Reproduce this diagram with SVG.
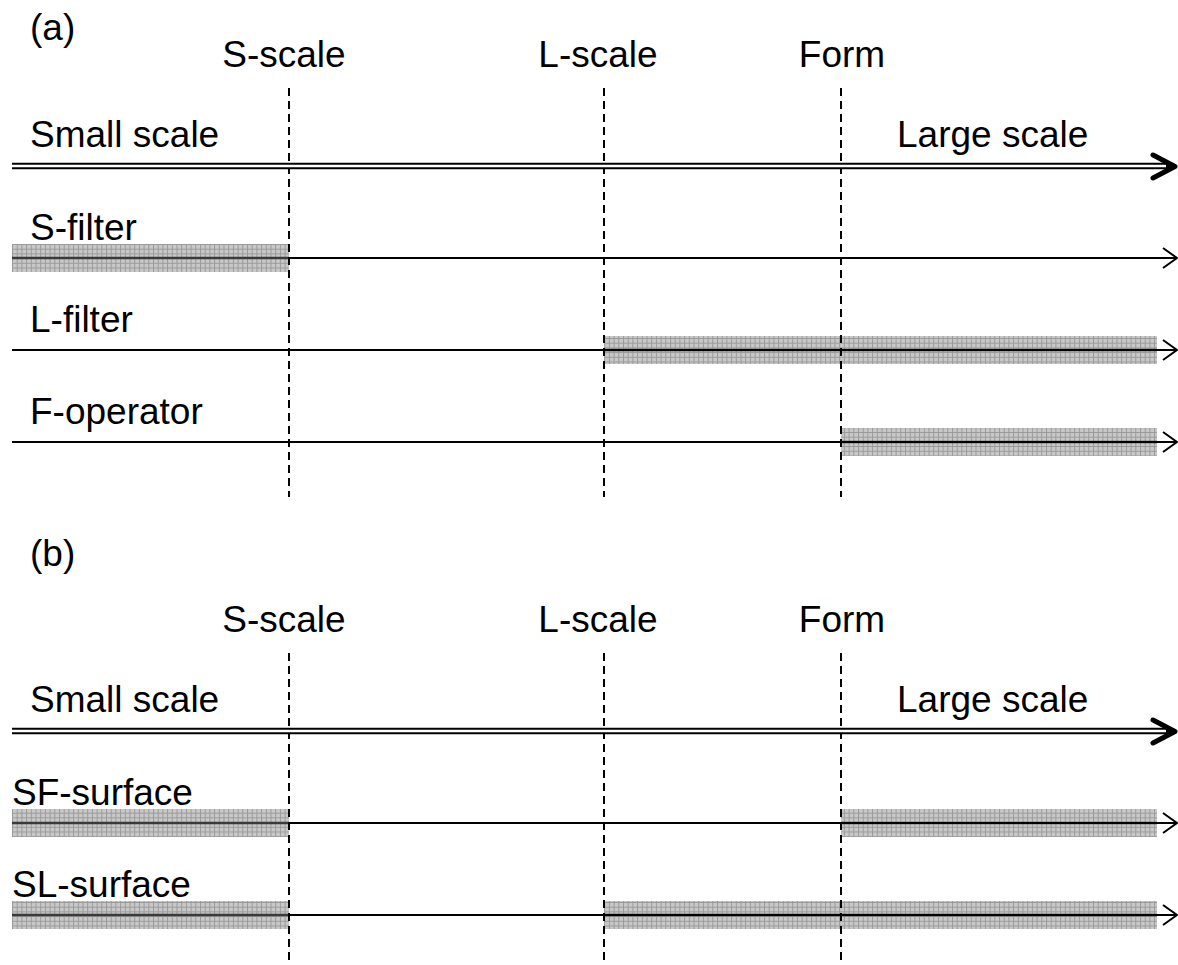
<svg xmlns="http://www.w3.org/2000/svg" width="1178" height="965" viewBox="0 0 1178 965">
<defs>
<pattern id="grid" patternUnits="userSpaceOnUse" width="4.7" height="4.7" x="12" y="244">
<rect width="4.7" height="4.7" fill="#c8c8c8"/>
<path d="M0 0.5H4.7M0.5 0V4.7" stroke="#9a9a9a" stroke-width="1" fill="none"/>
</pattern>
<marker id="thin" markerWidth="24" markerHeight="24" refX="20" refY="12" orient="auto" markerUnits="userSpaceOnUse">
<polyline points="6,2 20,12 6,22" fill="none" stroke="#000" stroke-width="2"/>
</marker>
</defs>
<style>
text{font-family:"Liberation Sans",Arial,sans-serif;font-size:37px;fill:#000}
.mid{text-anchor:middle}
.dash{stroke:#000;stroke-width:2;stroke-dasharray:8 5;fill:none}
.thin{stroke:#000;stroke-width:2;fill:none;marker-end:url(#thin)}
.bar{fill:url(#grid)}
.cl{stroke:#3a3a3a;stroke-width:2.5}
.dbl{stroke:#000;stroke-width:6.5}
.dblw{stroke:#fff;stroke-width:2.3}
.head{fill:none;stroke:#000;stroke-width:5;stroke-linecap:round;stroke-linejoin:round}
</style>
<rect width="1178" height="965" fill="#fff"/>

<g id="panel-a">
<text x="30" y="40">(a)</text>
<g id="a-scales">
<text class="mid" x="284" y="67">S-scale</text>
<text class="mid" x="598" y="67">L-scale</text>
<text class="mid" x="842" y="67">Form</text>
</g>
<g id="a-axis">
<text x="30" y="147">Small scale</text>
<text x="897" y="147">Large scale</text>
</g>
<g id="a-bars">
<rect class="bar" x="12" y="244" width="277" height="28"/>
<rect class="bar" x="604" y="336" width="553" height="28"/>
<rect class="bar" x="841" y="428" width="316" height="28"/>
<line class="cl" x1="12" y1="258" x2="289" y2="258"/>
<line class="cl" x1="604" y1="350" x2="1157" y2="350"/>
<line class="cl" x1="841" y1="442" x2="1157" y2="442"/>
</g>
<g id="a-labels">
<text x="30" y="240">S-filter</text>
<text x="30" y="332">L-filter</text>
<text x="30" y="424">F-operator</text>
</g>
</g>

<g id="panel-b">
<text x="30" y="566">(b)</text>
<g id="b-scales">
<text class="mid" x="284" y="632">S-scale</text>
<text class="mid" x="598" y="632">L-scale</text>
<text class="mid" x="842" y="632">Form</text>
</g>
<g id="b-axis">
<text x="30" y="712">Small scale</text>
<text x="897" y="712">Large scale</text>
</g>
<g id="b-bars">
<rect class="bar" x="12" y="809" width="277" height="28"/>
<rect class="bar" x="841" y="809" width="316" height="28"/>
<rect class="bar" x="12" y="901" width="277" height="28"/>
<rect class="bar" x="604" y="901" width="553" height="28"/>
<line class="cl" x1="12" y1="823" x2="289" y2="823"/>
<line class="cl" x1="841" y1="823" x2="1157" y2="823"/>
<line class="cl" x1="12" y1="915" x2="289" y2="915"/>
<line class="cl" x1="604" y1="915" x2="1157" y2="915"/>
</g>
<g id="b-labels">
<text x="12" y="805">SF-surface</text>
<text x="12" y="897">SL-surface</text>
</g>
</g>

<g id="connectors">
<line class="dash" x1="289" y1="88" x2="289" y2="497"/>
<line class="dash" x1="604" y1="88" x2="604" y2="497"/>
<line class="dash" x1="841" y1="88" x2="841" y2="497"/>
<line class="dash" x1="289" y1="653" x2="289" y2="965"/>
<line class="dash" x1="604" y1="653" x2="604" y2="965"/>
<line class="dash" x1="841" y1="653" x2="841" y2="965"/>

<line class="dbl" x1="12" y1="166" x2="1172" y2="166"/>
<line class="dblw" x1="12" y1="166" x2="1166" y2="166"/>
<polyline class="head" points="1153,155 1175,166.5 1153,178"/>
<line class="dbl" x1="12" y1="731" x2="1172" y2="731"/>
<line class="dblw" x1="12" y1="731" x2="1166" y2="731"/>
<polyline class="head" points="1153,720 1175,731.5 1153,743"/>

<line class="thin" x1="289" y1="258" x2="1177" y2="258"/>
<line class="thin" x1="12" y1="350" x2="1177" y2="350"/>
<line class="thin" x1="12" y1="442" x2="1177" y2="442"/>
<line class="thin" x1="289" y1="823" x2="1177" y2="823"/>
<line class="thin" x1="289" y1="915" x2="1177" y2="915"/>
</g>
</svg>
